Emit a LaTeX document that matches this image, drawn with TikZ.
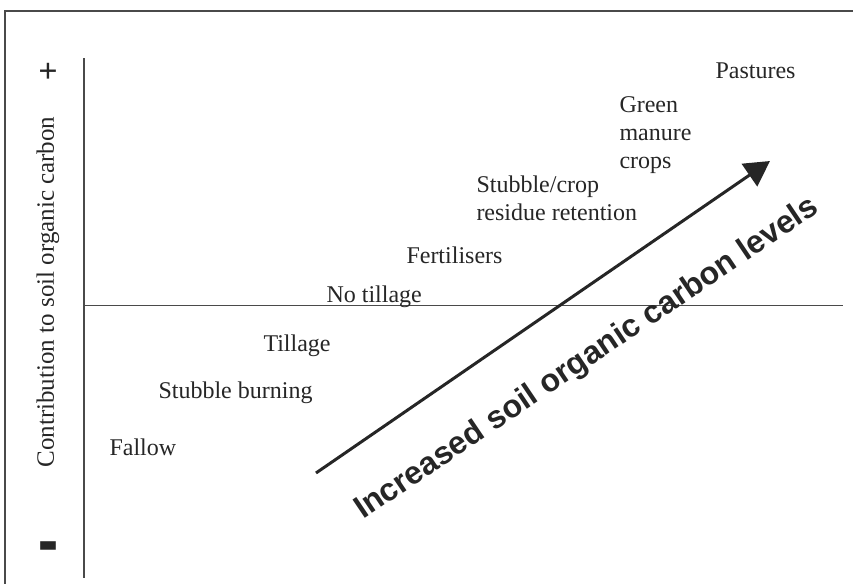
\documentclass[tikz,border=0pt]{standalone}
\usepackage{fontspec}
\setmainfont{Liberation Serif}
\setsansfont{Liberation Sans}
\usetikzlibrary{arrows.meta}
\definecolor{ink}{HTML}{262626}
\definecolor{rule}{HTML}{4A4A4A}
\begin{document}
\begin{tikzpicture}[
  x=0.5pt,y=-0.5pt,
  practice/.style={inner sep=0pt,text=ink,
    font=\fontsize{12}{14}\selectfont},
  every path/.style={line width=0.5pt}]
\useasboundingbox (0,0) rectangle (853,584);
% frame and axes
\draw[rule,line width=1pt] (853,11) -- (5,11) -- (5,584);
\draw[rule,line width=0.8pt] (84,58) -- (84,578);
\draw[rule,line width=0.5pt] (84,305) -- (843,305);
\node[text=ink,font=\fontsize{17}{17}\selectfont\bfseries] (plus) at (48,73) {+};
\node[text=ink,inner sep=0pt] (minus) at (48,556) {\scalebox{3}[5]{\bfseries -}};
\node[practice,rotate=90,font=\fontsize{12.5}{14}\selectfont] (ylab) at (48,292)
  {Contribution to soil organic carbon};
% practices
\node[practice,anchor=base west] (fallow) at (109,455) {Fallow};
\node[practice,anchor=base west] (burn) at (158,398) {Stubble burning};
\node[practice,anchor=base west] (till) at (263,351) {Tillage};
\node[practice,anchor=base west] (notill) at (326,302) {No tillage};
\node[practice,anchor=base west] (fert) at (406,263) {Fertilisers};
\node[practice,anchor=north west,align=left] (resid) at (476,175)
  {Stubble/crop\\residue retention};
\node[practice,anchor=north west,align=left] (manure) at (619,96)
  {Green\\manure\\crops};
\node[practice,anchor=base west] (past) at (715,78) {Pastures};
% trend arrow
\coordinate (low) at (316,473);
\coordinate (high) at (770,161);
\draw[ink,line width=1.5pt,-{Triangle[length=12.5pt,width=13.5pt]}] (low) -- (high);
\node[text=ink,rotate=34,font=\fontsize{16}{16}\selectfont\sffamily\bfseries] (trend)
  at (587,359) {Increased soil organic carbon levels};
\end{tikzpicture}
\end{document}
